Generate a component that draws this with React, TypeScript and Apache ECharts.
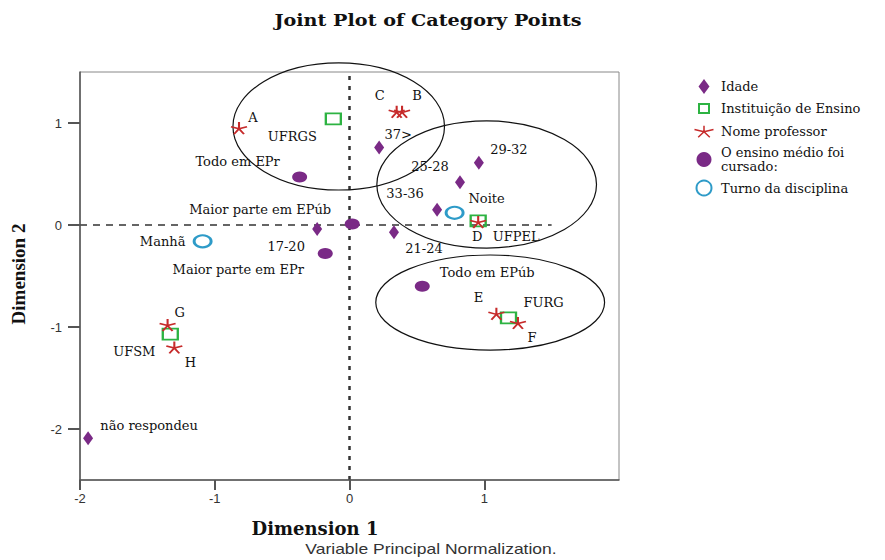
import React, { useEffect, useRef } from 'react';
import * as echarts from 'echarts';

// ---------- data ----------
const idadeNames = ['17-20', '21-24', '25-28', '29-32', '33-36', '37>', 'não respondeu'];
const idadeX = [-0.24, 0.33, 0.82, 0.96, 0.65, 0.22, -1.94];
const idadeY = [-0.04, -0.07, 0.42, 0.61, 0.15, 0.76, -2.09];

const instNames = ['UFRGS', 'UFPEL', 'FURG', 'UFSM'];
const instX = [-0.12, 0.955, 1.18, -1.33];
const instY = [1.04, 0.04, -0.91, -1.07];

const profNames = ['A', 'B', 'C', 'D', 'E', 'F', 'G', 'H'];
const profX = [-0.82, 0.39, 0.35, 0.955, 1.09, 1.25, -1.35, -1.3];
const profY = [0.95, 1.11, 1.11, 0.03, -0.87, -0.96, -0.98, -1.2];

const ensinoNames = ['Todo em EPr', 'Maior parte em EPúb', 'Maior parte em EPr', 'Todo em EPúb'];
const ensinoX = [-0.37, 0.02, -0.18, 0.54];
const ensinoY = [0.47, 0.01, -0.28, -0.6];

const turnoNames = ['Manhã', 'Noite'];
const turnoX = [-1.09, 0.78];
const turnoY = [-0.16, 0.12];

const seriesNames = ['Idade', 'Instituição de Ensino', 'Nome professor', 'O ensino médio foi\ncursado:', 'Turno da disciplina'];

const xTicks = [-2, -1, 0, 1];
const yTicks = [-2, -1, 0, 1];

// annotation ellipses (data units): centre x, centre y, radius x, radius y
const ellipseCX = [-0.08, 1.018, 1.044];
const ellipseCY = [0.966, 0.397, -0.76];
const ellipseRX = [0.785, 0.815, 0.849];
const ellipseRY = [0.623, 0.623, 0.466];

// ---------- layout / style ----------
const labelOffset: Record<string, [number, number]> = {
  '17-20': [-31, 17], '21-24': [30, 16], '25-28': [-30, -16], '29-32': [30, -13], '33-36': [-32, -16], '37>': [19, -13], 'não respondeu': [61, -13],
  UFRGS: [-41, 18], UFPEL: [38, 16], FURG: [35, -15], UFSM: [-36, 17],
  A: [14, -11], B: [15, -16], C: [-17, -16], D: [-1, 15], E: [-18, -16], F: [14, 15], G: [12, -12], H: [16, 15],
  'Todo em EPr': [-62, -16], 'Maior parte em EPúb': [-92, -14], 'Maior parte em EPr': [-87, 16], 'Todo em EPúb': [65, -14],
  'Manhã': [-40, 0], Noite: [32, -14],
};

const PURPLE = '#7A2A86';
const GREEN = '#2DB342';
const RED = '#C62A2A';
const BLUE = '#2E9BC8';

const STAR = 'path://M10 10L10 0M10 10L19.5 6.9M10 10L15.9 18.1M10 10L4.1 18.1M10 10L0.5 6.9';
const LEG_DIAMOND = 'path://M0 0M24 15M12 0L17.5 7.5L12 15L6.5 7.5Z';
const LEG_SQUARE = 'path://M0 0M24 15M7 3L17 3L17 12L7 12Z';
const LEG_STAR = 'path://M0 0M24 15M12 8L12 2M12 8L21.5 5.8M12 8L17.8 13.5M12 8L6.2 13.5M12 8L2.5 5.8';

const labelBase = {
  show: true,
  position: 'inside',
  formatter: '{b}',
  color: '#111',
  fontFamily: 'DejaVu Serif',
  fontSize: 13,
  align: 'center',
  verticalAlign: 'middle',
  textBorderWidth: 0,
  textBorderColor: 'transparent',
};

function pts(names: string[], xs: number[], ys: number[]) {
  return names.map((n, i) => ({ name: n, value: [xs[i], ys[i]], label: { offset: labelOffset[n] } }));
}

export default function App() {
  const ref = useRef<HTMLDivElement>(null);
  useEffect(() => {
    if (!ref.current) return;
    const chart = echarts.init(ref.current, null, { renderer: 'svg' });
    const option: any = {
      animation: false,
      backgroundColor: '#fff',
      grid: { left: 80, right: 266, top: 72, bottom: 80, show: true, borderColor: '#888', borderWidth: 1 },
      xAxis: {
        type: 'value', min: -2, max: 2,
        axisLine: { onZero: false, lineStyle: { color: '#555', width: 1.5 } },
        axisTick: { customValues: xTicks, length: 10, lineStyle: { color: '#555', width: 2 } },
        axisLabel: { customValues: xTicks, margin: 12, fontFamily: 'Liberation Sans', fontSize: 13, color: '#333' },
        splitLine: { show: false },
      },
      yAxis: {
        type: 'value', min: -2.5, max: 1.5,
        axisLine: { onZero: false, lineStyle: { color: '#555', width: 1.5 } },
        axisTick: { customValues: yTicks, length: 12, lineStyle: { color: '#555', width: 2 } },
        axisLabel: { customValues: yTicks, margin: 18, fontFamily: 'Liberation Sans', fontSize: 13, color: '#333' },
        splitLine: { show: false },
      },
      legend: {
        orient: 'vertical', left: 691, top: 79, padding: 0,
        itemWidth: 24, itemHeight: 15, itemGap: 6, selectedMode: false,
        textStyle: { fontFamily: 'DejaVu Serif', fontSize: 13, color: '#111', lineHeight: 14 },
        data: [
          { name: seriesNames[0], icon: LEG_DIAMOND },
          { name: seriesNames[1], icon: LEG_SQUARE },
          { name: seriesNames[2], icon: LEG_STAR, itemStyle: { borderWidth: 1.5 } },
          { name: seriesNames[3], icon: 'circle' },
          { name: seriesNames[4], icon: 'circle' },
        ],
      },
      graphic: [
        { type: 'text', x: 428, y: 20, scaleX: 1.13, style: { text: 'Joint Plot of Category Points', font: 'bold 17px "DejaVu Serif"', fill: '#111', textAlign: 'center', textVerticalAlign: 'middle', align: 'center', verticalAlign: 'middle' } },
        { type: 'text', x: 315, y: 528, style: { text: 'Dimension 1', font: 'bold 18px "DejaVu Serif"', fill: '#111', textAlign: 'center', textVerticalAlign: 'middle', align: 'center', verticalAlign: 'middle' } },
        { type: 'text', x: 18, y: 274, rotation: Math.PI / 2, style: { text: 'Dimension 2', font: 'bold 19px "Liberation Serif"', fill: '#111', textAlign: 'center', textVerticalAlign: 'middle', align: 'center', verticalAlign: 'middle' } },
        { type: 'text', x: 431, y: 549, scaleX: 1.25, style: { text: 'Variable Principal Normalization.', font: '14px "Liberation Sans"', fill: '#333', textAlign: 'center', textVerticalAlign: 'middle', align: 'center', verticalAlign: 'middle' } },
      ],
      series: [
        {
          type: 'custom', name: 'ellipses', silent: true, z: 1, clip: false,
          data: ellipseCX.map((cx, i) => [cx, ellipseCY[i], ellipseRX[i], ellipseRY[i]]),
          encode: { x: 0, y: 1 },
          renderItem: (_p: any, api: any) => {
            const c = api.coord([api.value(0), api.value(1)]);
            const s = api.size([api.value(2), api.value(3)]);
            return { type: 'ellipse', shape: { cx: c[0], cy: c[1], rx: s[0], ry: s[1] }, style: { fill: 'none', stroke: '#111', lineWidth: 1.2 } };
          },
        },
        {
          type: 'scatter', name: seriesNames[1], symbol: 'rect', symbolSize: [15, 11],
          itemStyle: { color: 'rgba(0,0,0,0)', borderColor: GREEN, borderWidth: 2, opacity: 1 },
          label: labelBase, data: pts(instNames, instX, instY),
        },
        {
          type: 'scatter', name: seriesNames[3], symbol: 'circle', symbolSize: [15, 11],
          itemStyle: { color: PURPLE, opacity: 1 },
          label: labelBase, data: pts(ensinoNames, ensinoX, ensinoY),
        },
        {
          type: 'scatter', name: seriesNames[0], symbol: 'diamond', symbolSize: [10, 14],
          itemStyle: { color: PURPLE, opacity: 1 },
          label: labelBase, data: pts(idadeNames, idadeX, idadeY),
          markLine: {
            silent: true, symbol: 'none', label: { show: false }, z: 0,
            data: [
              [{ coord: [0, -2.5], lineStyle: { type: [4, 6], width: 2.5, color: '#333' } }, { coord: [0, 1.5] }],
              [{ coord: [-2, 0], lineStyle: { type: [7, 6], width: 1.5, color: '#333' } }, { coord: [1.5, 0] }],
            ],
          },
        },
        {
          type: 'scatter', name: seriesNames[4], symbol: 'circle', symbolSize: [17, 12],
          itemStyle: { color: 'rgba(0,0,0,0)', borderColor: BLUE, borderWidth: 2.5, opacity: 1 },
          label: labelBase, data: pts(turnoNames, turnoX, turnoY),
        },
        {
          type: 'scatter', name: seriesNames[2], symbol: STAR, symbolSize: [16, 12],
          itemStyle: { color: RED, borderColor: RED, borderWidth: 1.8, opacity: 1 },
          label: labelBase, data: pts(profNames, profX, profY),
        },
      ],
    };
    chart.setOption(option);
    return () => chart.dispose();
  }, []);
  return <div ref={ref} style={{ position: 'absolute', left: 0, top: 0, width: 885, height: 560, background: '#fff' }} />;
}
